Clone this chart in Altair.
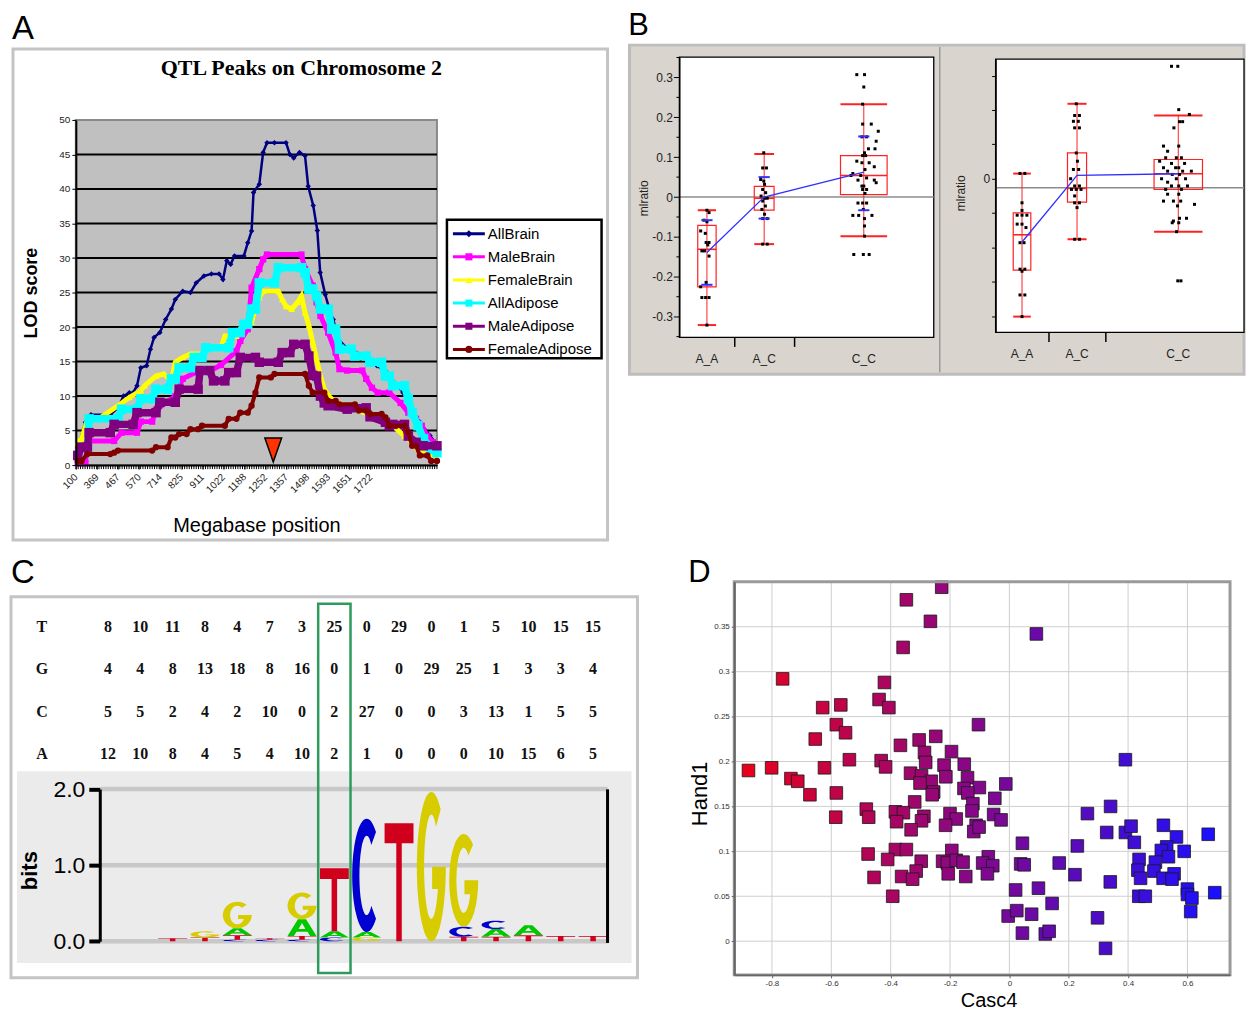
import altair as alt
import pandas as pd

FONT = "Liberation Sans, Arial, sans-serif"
SERIF = "Liberation Serif, Times New Roman, serif"
NARROW = "Liberation Sans Narrow, Arial Narrow, Liberation Sans, sans-serif"

# ---------------- Panel A data ----------------
SERIES = ["AllBrain", "MaleBrain", "FemaleBrain", "AllAdipose", "MaleAdipose", "FemaleAdipose"]
SERIES_COLORS = ["#000080", "#ff00ff", "#ffff00", "#00ffff", "#800080", "#800000"]
SERIES_SHAPES = ["diamond", "square", "triangle-up", "square", "square", "circle"]
SERIES_SIZES = [30, 40, 44, 90, 90, 40]
SERIES_WIDTHS = [2.5, 5, 5, 7.5, 7.5, 4]
X_TICK_LABELS = ["100", "369", "467", "570", "714", "825", "911", "1022", "1188",
                 "1252", "1357", "1498", "1593", "1651", "1722"]
GRID_A = [5, 10, 15, 20, 25, 30, 35, 40, 45]

ALLBRAIN_U = [0.08, 0.40, 0.63, 1.43, 1.75, 1.98, 2.22, 2.38, 2.54, 2.70, 2.94, 3.10, 3.25, 3.49, 3.73,
              3.97, 4.13, 4.44, 4.76, 5.00, 5.32, 5.63, 5.95, 6.11, 6.27, 6.43, 6.59, 6.98, 7.14, 7.30,
              7.38, 7.62, 7.78, 7.94, 8.25, 8.73, 8.89, 9.05, 9.29, 9.52, 9.65, 9.86, 10.03, 10.15, 10.36,
              10.57, 10.69, 10.86, 11.06, 11.40, 11.93, 12.51, 12.93, 13.34, 13.59, 14.00, 14.30, 14.71, 15.00]
ALLBRAIN_LOD = [2.5, 6.2, 7.3, 7.3, 8.3, 10.0, 10.5, 10.5, 11.5, 14.1, 14.4, 16.8, 18.5, 19.2, 21.1,
                22.6, 24.0, 25.2, 25.0, 26.4, 27.4, 27.7, 27.7, 26.9, 29.6, 29.1, 30.3, 30.3, 32.2, 33.9,
                39.5, 40.7, 45.3, 46.7, 46.7, 46.7, 45.0, 44.5, 45.3, 44.8, 40.4, 37.6, 34.0, 27.9, 24.7,
                22.1, 21.1, 18.8, 17.5, 16.8, 15.9, 14.4, 13.4, 11.6, 10.5, 7.7, 6.2, 4.3, 2.9]
MALEBRAIN_U = [0.08, 0.40, 0.48, 1.59, 1.90, 2.54, 2.70, 3.17, 3.33, 4.13, 4.44, 5.08, 5.56, 6.03, 6.67,
               6.83, 7.14, 7.30, 7.62, 7.78, 7.94, 9.37, 9.52, 9.84, 10.00, 10.16, 10.48, 10.79, 10.95, 11.27,
               11.90, 12.06, 12.30, 12.54, 13.02, 13.49, 13.81, 14.13, 14.37, 14.60, 14.84, 15.00]
MALEBRAIN_LOD = [0.3, 0.3, 3.5, 3.5, 4.7, 4.7, 6.3, 6.3, 8.0, 10.0, 12.5, 13.6, 13.6, 14.5, 16.5,
                 18.0, 19.7, 25.7, 28.4, 29.8, 30.5, 30.5, 28.4, 26.0, 23.6, 21.6, 19.2, 16.3, 13.9, 13.7,
                 13.7, 12.5, 11.2, 10.5, 10.5, 9.0, 7.6, 6.7, 5.7, 4.2, 3.3, 2.6]
FEMALEBRAIN_U = [0.08, 0.24, 0.48, 0.95, 1.75, 2.22, 2.70, 2.86, 3.33, 3.65, 3.97, 4.13, 4.44, 4.76, 5.24,
                 5.40, 6.03, 6.19, 6.67, 6.83, 6.98, 7.30, 7.46, 7.62, 7.78, 8.41, 8.57, 8.73, 8.97, 9.21,
                 9.37, 9.52, 9.68, 9.84, 10.00, 10.16, 10.32, 10.56, 10.79, 11.59, 12.38, 13.17, 13.65, 13.97,
                 14.29, 14.76, 15.00]
FEMALEBRAIN_LOD = [3.3, 3.8, 6.5, 6.7, 8.6, 9.8, 10.8, 11.5, 12.9, 13.2, 12.2, 14.9, 15.6, 16.1, 16.1,
                   17.0, 17.0, 18.7, 18.7, 19.7, 20.7, 20.7, 23.0, 24.3, 25.2, 25.2, 24.0, 23.0, 22.6, 23.6,
                   24.5, 22.1, 20.2, 17.8, 15.3, 12.9, 11.0, 9.8, 9.1, 8.1, 7.1, 5.7, 4.2, 3.3,
                   1.8, 1.4, 1.1]
ALLADIPOSE_U = [0.08, 0.24, 0.48, 0.55, 1.75, 1.90, 2.54, 2.70, 3.17, 3.33, 3.81, 3.97, 4.13, 4.29, 4.76,
                4.92, 5.24, 5.40, 6.35, 6.51, 6.83, 6.98, 7.14, 7.30, 7.46, 7.62, 8.25, 8.41, 9.37, 9.52,
                9.68, 9.84, 10.00, 10.16, 10.48, 10.63, 10.79, 10.95, 11.43, 11.59, 12.06, 12.22, 12.70, 12.86,
                13.02, 13.17, 13.65, 13.81, 13.97, 14.21, 14.44, 14.76, 15.00]
ALLADIPOSE_LOD = [1.4, 2.6, 2.6, 6.7, 6.7, 8.1, 8.1, 9.6, 9.6, 11.0, 11.0, 12.5, 12.5, 14.1, 14.1,
                  15.6, 15.6, 17.0, 17.0, 19.2, 19.2, 20.4, 20.4, 22.6, 22.6, 26.4, 26.4, 28.6, 28.6, 27.9,
                  25.5, 25.5, 24.5, 22.6, 22.6, 19.7, 19.7, 16.8, 16.8, 15.8, 15.8, 14.9, 14.9, 12.9,
                  12.9, 11.5, 11.5, 9.6, 7.6, 5.7, 3.8, 2.3, 1.8]
MALEADIPOSE_U = [0.08, 0.24, 0.48, 0.55, 1.43, 1.59, 2.38, 2.54, 3.33, 3.49, 4.13, 4.29, 5.08, 5.16, 5.56,
                 5.72, 6.19, 6.35, 6.67, 6.83, 7.46, 7.62, 8.41, 8.57, 8.89, 9.05, 9.52, 9.68, 9.84, 10.00,
                 10.16, 10.32, 10.48, 11.27, 11.43, 12.06, 12.22, 12.86, 13.02, 13.17, 13.65, 13.81, 14.13,
                 14.44, 15.00]
MALEADIPOSE_LOD = [1.4, 2.6, 2.6, 4.7, 4.7, 5.9, 5.9, 7.6, 7.6, 9.1, 9.1, 11.0, 11.0, 13.7, 13.7,
                   12.2, 12.2, 13.4, 13.4, 15.6, 15.6, 14.9, 14.9, 16.3, 16.3, 17.5, 17.5, 15.8, 13.0, 12.9,
                   10.0, 9.0, 8.6, 8.1, 8.3, 8.3, 7.0, 6.2, 5.7, 5.9, 5.9, 4.2, 3.3,
                   2.8, 2.8]
FEMALEADIPOSE_U = [0.08, 0.24, 0.48, 1.43, 1.59, 1.75, 3.17, 3.33, 3.81, 3.97, 4.13, 4.29, 4.60, 4.76, 5.08,
                   5.24, 6.19, 6.35, 6.67, 6.83, 7.14, 7.30, 7.46, 7.62, 8.10, 8.25, 9.52, 9.68, 9.84, 10.32,
                   10.48, 10.79, 10.95, 11.59, 11.75, 12.06, 12.22, 12.70, 12.86, 13.02, 13.65, 13.81, 13.97,
                   14.13, 14.29, 14.60, 14.76, 15.00]
FEMALEADIPOSE_LOD = [0.6, 0.6, 1.6, 1.6, 1.8, 2.1, 2.1, 2.6, 2.6, 4.0, 4.0, 4.5, 4.5, 5.2, 5.2,
                     5.7, 5.7, 6.7, 6.7, 7.6, 7.6, 8.6, 10.5, 12.7, 12.7, 13.2, 13.2, 11.5, 10.5, 10.5,
                     9.3, 9.3, 8.8, 8.8, 7.9, 7.9, 7.4, 7.4, 6.9, 5.7, 5.7, 4.7, 2.8,
                     2.8, 1.4, 1.4, 0.6, 0.6]

SERIES_U = [ALLBRAIN_U, MALEBRAIN_U, FEMALEBRAIN_U, ALLADIPOSE_U, MALEADIPOSE_U, FEMALEADIPOSE_U]
SERIES_LOD = [ALLBRAIN_LOD, MALEBRAIN_LOD, FEMALEBRAIN_LOD, ALLADIPOSE_LOD, MALEADIPOSE_LOD, FEMALEADIPOSE_LOD]
PEAK_MARK = [8.2, 2.2]

# ---------------- Panel B data ----------------
B_GROUPS = ["A_A", "A_C", "C_C"]
B1_COUNTS = [13, 14, 33]
B1_Q1 = [-0.225, -0.033, 0.006]
B1_MED = [-0.131, -0.003, 0.054]
B1_Q3 = [-0.071, 0.027, 0.104]
B1_LO = [-0.321, -0.118, -0.098]
B1_HI = [-0.033, 0.108, 0.233]
B1_MEAN = [-0.139, 0.0, 0.0625]
B1_SD_LO = [-0.22, -0.054, -0.033]
B1_SD_HI = [-0.058, 0.05, 0.152]
B1_AA_VAL = [-0.033, -0.039, -0.058, -0.062, -0.085, -0.091, -0.114, -0.114, -0.12, -0.135, -0.135, -0.148,
             -0.214, -0.225, -0.252, -0.252, -0.252, -0.321]
B1_AA_OFF = [0.0, 0.23, -0.32, 0.0, -0.68, -0.18, -0.09, 0.23, 0.09, -0.55, -0.27, 0.23,
             -0.09, -0.68, -0.55, -0.14, 0.23, 0.0]
B1_AC_VAL = [0.111, 0.073, 0.073, 0.044, 0.04, 0.032, 0.019, 0.011, 0.0025, -0.003, -0.003, -0.01, -0.0225,
             -0.031, -0.043, -0.054, -0.054, -0.118, -0.118]
B1_AC_OFF = [-0.04, -0.15, 0.23, -0.35, -0.04, 0.04, -0.15, 0.15, -0.31, 0.04, 0.31, -0.15, 0.12,
             -0.23, 0.04, -0.15, 0.31, -0.15, 0.31]
B1_CC_VAL = [0.307, 0.307, 0.276, 0.233, 0.183, 0.183, 0.165, 0.151, 0.151, 0.14,
             0.121, 0.121, 0.111, 0.104, 0.104, 0.09, 0.086, 0.086, 0.076, 0.069,
             0.059, 0.054, 0.054, 0.048, 0.0425, 0.0425, 0.036, 0.0275, 0.0275, 0.019,
             0.019, 0.009, -0.015, -0.015, -0.015, -0.031, -0.046, -0.046, -0.046, -0.054,
             -0.0725, -0.098, -0.144, -0.144, -0.144]
B1_CC_OFF = [-0.30, 0.03, 0.0, -0.05, -0.05, 0.32, 0.62, -0.08, 0.12, 0.53,
             0.20, 0.48, 0.03, -0.05, 0.08, -0.30, -0.08, 0.23, 0.45, 0.05,
             -0.47, -0.55, -0.13, 0.12, -0.25, 0.45, 0.53, -0.08, 0.0, -0.05,
             0.12, 0.05, -0.25, -0.05, 0.12, -0.02, -0.47, -0.22, 0.35, 0.03,
             0.03, 0.03, -0.43, -0.02, 0.23]
B1_MAJOR_TICKS = [-0.3, -0.2, -0.1, 0, 0.1, 0.2, 0.3]
B1_MINOR_TICKS = [-0.35, -0.25, -0.15, -0.05, 0.05, 0.15, 0.25, 0.35]

B2_COUNTS = [12, 13, 33]
B2_Q1 = [-0.266, -0.068, -0.031]
B2_MED = [-0.163, -0.028, 0.0145]
B2_Q3 = [-0.099, 0.075, 0.056]
B2_LO = [-0.401, -0.176, -0.154]
B2_HI = [0.015, 0.218, 0.184]
B2_MEAN = [-0.184, 0.01, 0.0145]
B2_AA_VAL = [0.0155, 0.0155, -0.07, -0.092, -0.106, -0.106, -0.106, -0.132, -0.132, -0.142, -0.186, -0.186,
             -0.263, -0.263, -0.269, -0.338, -0.338, -0.401]
B2_AA_OFF = [-0.23, 0.32, 0.0, 0.0, -0.55, 0.0, 0.55, -0.55, 0.0, 0.45, -0.23, 0.23,
             -0.23, 0.32, 0.0, -0.23, 0.32, 0.0]
B2_AC_VAL = [0.218, 0.184, 0.184, 0.167, 0.167, 0.148, 0.148, 0.075, 0.051, 0.027, 0.027, 0.0,
             -0.021, -0.021, -0.031, -0.031, -0.031, -0.05, -0.07, -0.07, -0.084, -0.176, -0.176]
B2_AC_OFF = [-0.08, -0.25, 0.25, -0.38, 0.13, -0.25, 0.25, -0.08, 0.04, -0.38, 0.17, -0.67,
             -0.25, 0.25, -0.58, -0.08, 0.42, -0.25, -0.25, 0.25, 0.0, -0.25, 0.25]
B2_CC_VAL = [0.327, 0.327, 0.201, 0.187, 0.166, 0.166, 0.148, 0.095, 0.095, 0.080,
             0.061, 0.061, 0.061, 0.051, 0.0445, 0.0445, 0.032, 0.032, 0.032, 0.022,
             0.022, 0.022, 0.0126, 0.0126, 0.0, 0.0, 0.0, -0.01, -0.021, -0.021,
             -0.021, -0.031, -0.031, -0.045, -0.045, -0.065, -0.065, -0.065, -0.0745, -0.079,
             -0.115, -0.115, -0.123, -0.128, -0.128, -0.154, -0.297, -0.297]
B2_CC_OFF = [-0.28, -0.02, 0.02, 0.46, 0.05, 0.18, -0.18, -0.61, 0.02, -0.44,
             -0.52, -0.08, 0.13, -0.77, -0.28, 0.26, -0.61, -0.11, 0.02, -0.44,
             0.18, 0.54, -0.25, 0.05, -0.69, -0.08, 0.30, -0.44, -0.28, 0.02,
             0.38, -0.52, 0.13, -0.44, 0.02, -0.61, -0.20, 0.10, 0.67, -0.03,
             0.05, 0.34, -0.20, -0.25, 0.02, -0.07, -0.02, 0.11]
B2_TICKS = [-0.4, -0.35, -0.3, -0.25, -0.2, -0.15, -0.1, -0.05, 0, 0.05, 0.1, 0.15, 0.2, 0.25, 0.3]

# ---------------- Panel C data ----------------
TABLE_ROWS = ["T", "G", "C", "A"]
COUNT_T = [8, 10, 11, 8, 4, 7, 3, 25, 0, 29, 0, 1, 5, 10, 15, 15]
COUNT_G = [4, 4, 8, 13, 18, 8, 16, 0, 1, 0, 29, 25, 1, 3, 3, 4]
COUNT_C = [5, 5, 2, 4, 2, 10, 0, 2, 27, 0, 0, 3, 13, 1, 5, 5]
COUNT_A = [12, 10, 8, 4, 5, 4, 10, 2, 1, 0, 0, 0, 10, 15, 6, 5]
HIGHLIGHT_COL = 8
LOGO_COL = [3, 4, 4, 5, 5, 5, 5, 6, 6, 7, 7, 7, 7, 8, 8, 8, 9, 9, 9, 10, 11, 12, 12, 12, 13, 13, 13, 14, 14, 15, 16]
LOGO_BASE = ["T", "T", "G", "C", "T", "A", "G", "C", "T", "C", "T", "A", "G", "C", "A", "T", "G", "A", "C",
             "T", "G", "T", "C", "G", "T", "A", "C", "T", "A", "T", "T"]
LOGO_BITS = [0.04, 0.05, 0.08, 0.02, 0.06, 0.09, 0.35, 0.02, 0.02, 0.02, 0.05, 0.22, 0.35, 0.05, 0.08, 0.83,
             0.05, 0.07, 1.49, 1.55, 1.96, 0.06, 0.13, 1.22, 0.06, 0.10, 0.11, 0.08, 0.13, 0.07, 0.07]
BASE_COLORS = ["#00c800", "#0000d0", "#d6cc00", "#d0001c"]

# ---------------- Panel D data ----------------
CASC4 = [-0.228, -0.347, -0.266, -0.358, 0.091, -0.764, -0.421, -0.439, -0.406, -0.629,
         -0.568, -0.583, -0.552, -0.654, -0.104, -0.248, -0.367, -0.304, -0.195, -0.286,
         -0.282, -0.432, -0.417, -0.539, -0.623, -0.801, -0.879, -0.736, -0.713, -0.672,
         -0.583, -0.585, -0.220, -0.152, -0.214, -0.333, -0.296, -0.263, -0.301, -0.255,
         -0.260, -0.319, -0.141, -0.153, -0.101, -0.140, -0.012, -0.049, -0.123, -0.126,
         -0.482, -0.474, -0.384, -0.357, -0.380, -0.288, -0.296, -0.331, -0.200, -0.179,
         -0.215, -0.112, -0.120, -0.102, -0.053, -0.028, -0.476, -0.384, -0.347, -0.410,
         -0.297, -0.314, -0.456, -0.363, -0.326, -0.393, -0.194, -0.225, -0.209, -0.179,
         -0.156, -0.206, -0.147, -0.071, -0.090, -0.056, -0.074, 0.044, 0.038, 0.050,
         0.021, 0.098, 0.168, 0.144, -0.004, 0.025, 0.075, 0.044, 0.121, 0.134,
         0.229, 0.263, 0.221, 0.341, 0.328, 0.340, 0.297, 0.324, 0.391, 0.391,
         0.410, 0.421, 0.437, 0.433, 0.442, 0.436, 0.458, 0.519, 0.563, 0.530,
         0.512, 0.536, 0.492, 0.487, 0.518, 0.555, 0.548, 0.589, 0.670, 0.600,
         0.600, 0.615, 0.611, 0.692]
HAND1 = [0.394, 0.380, 0.356, 0.327, 0.342, 0.292, 0.288, 0.269, 0.260, 0.260,
         0.263, 0.241, 0.232, 0.225, 0.241, 0.228, 0.218, 0.224, 0.211, 0.210,
         0.199, 0.201, 0.194, 0.202, 0.193, 0.193, 0.190, 0.181, 0.178, 0.163,
         0.165, 0.138, 0.196, 0.197, 0.183, 0.187, 0.184, 0.178, 0.176, 0.166,
         0.163, 0.155, 0.182, 0.170, 0.171, 0.165, 0.175, 0.159, 0.153, 0.145,
         0.147, 0.138, 0.144, 0.143, 0.133, 0.139, 0.134, 0.124, 0.142, 0.136,
         0.129, 0.129, 0.122, 0.127, 0.141, 0.135, 0.097, 0.102, 0.102, 0.091,
         0.089, 0.078, 0.071, 0.072, 0.069, 0.050, 0.101, 0.089, 0.087, 0.090,
         0.088, 0.075, 0.072, 0.094, 0.087, 0.084, 0.075, 0.109, 0.086, 0.085,
         0.057, 0.059, 0.087, 0.042, 0.028, 0.034, 0.030, 0.009, 0.008, 0.011,
         0.106, 0.142, 0.074, 0.150, 0.121, 0.066, 0.026, -0.008, 0.202, 0.121,
         0.128, 0.110, 0.091, 0.079, 0.070, 0.050, 0.050, 0.129, 0.116, 0.105,
         0.101, 0.094, 0.088, 0.078, 0.070, 0.075, 0.069, 0.100, 0.119, 0.058,
         0.052, 0.048, 0.033, 0.054]
D_XTICKS = [-0.8, -0.6, -0.4, -0.2, 0, 0.2, 0.4, 0.6]
D_YTICKS = [0, 0.05, 0.1, 0.15, 0.2, 0.25, 0.3, 0.35]

# ---------------- helpers ----------------
ONE = pd.DataFrame({"t": [""]})


def deco_rect(x, x2, y, y2, **kw):
    return alt.Chart(ONE).mark_rect(**kw).encode(
        x=alt.value(x), x2=alt.value(x2), y=alt.value(y), y2=alt.value(y2))


def deco_rule(x, x2, y, y2, **kw):
    return alt.Chart(ONE).mark_rule(**kw).encode(
        x=alt.value(x), x2=alt.value(x2), y=alt.value(y), y2=alt.value(y2))


def deco_text(txt, x, y, **kw):
    return alt.Chart(pd.DataFrame({"t": [txt]})).mark_text(**kw).encode(
        x=alt.value(x), y=alt.value(y), text="t:N")


SIGNED_1F = "abs(datum.value) < 0.001 ? '0' : (datum.value < 0 ? '-' : '') + format(abs(datum.value), '.1f')"

# ================= Panel A =================
XA = alt.Scale(domain=[0, 15], range=[67, 429], nice=False, zero=False)
YA = alt.Scale(domain=[0, 50], range=[455, 109], nice=False, zero=False)
COLOR_A = alt.Scale(domain=SERIES, range=SERIES_COLORS)
SHAPE_A = alt.Scale(domain=SERIES, range=SERIES_SHAPES)

n_slots = 17.156
label_pos = [round(i * 15 / n_slots, 4) for i in range(len(X_TICK_LABELS))]
minor_pos = [round(i * 15 / 156, 4) for i in range(157)]
label_expr = "[" + ",".join("'%s'" % s for s in X_TICK_LABELS) + "][round(datum.value * %s / 15)]" % n_slots

x_axis_a = alt.Axis(orient="bottom", offset=-85, values=label_pos, labelExpr=label_expr,
                    labelAngle=315, labelAlign="right", labelBaseline="middle",
                    labelFont=FONT, labelFontSize=10, labelColor="#222222", labelPadding=6,
                    labelFlush=False, labelOverlap=False, tickSize=4, tickColor="black",
                    domainColor="black", domainWidth=2, grid=False,
                    title="Megabase position", titleFont=FONT, titleFontSize=20,
                    titleFontWeight="normal", titleColor="black", titleX=248, titleY=61,
                    titleAlign="center", titleBaseline="middle", zindex=1)
y_axis_a = alt.Axis(orient="left", offset=-67, values=list(range(0, 51, 5)),
                    labelFont=FONT, labelFontSize=10, labelColor="#222222", labelPadding=2,
                    labelOverlap=False, tickSize=4, tickColor="black", domainColor="black",
                    domainWidth=2, grid=False,
                    title="LOD score", titleFont=FONT, titleFontSize=18, titleFontWeight="bold",
                    titleColor="black", titleX=-44, titleY=282, titleAngle=270,
                    titleAlign="center", titleBaseline="middle", zindex=1)

a_layers = [
    deco_rect(4, 600, 38, 530, fill="white", stroke="#c4c4c4", strokeWidth=3),
    alt.Chart(ONE).mark_rect(fill="#c0c0c0", stroke="#8a8a8a", strokeWidth=2).encode(
        x=alt.XDatum(0, scale=XA, axis=x_axis_a), x2=alt.X2Datum(15),
        y=alt.YDatum(0, scale=YA, axis=y_axis_a), y2=alt.Y2Datum(50)),
    alt.Chart(pd.DataFrame({"v": GRID_A})).mark_rule(color="black", strokeWidth=2).encode(
        x=alt.XDatum(0, scale=XA), x2=alt.X2Datum(15),
        y=alt.Y("v:Q", scale=YA)),
    alt.Chart(pd.DataFrame({"m": minor_pos})).mark_rule(color="black", strokeWidth=1).encode(
        x=alt.X("m:Q", scale=XA), y=alt.value(455), y2=alt.value(459)),
]
for name, us, lods, shp, sz, w in zip(SERIES, SERIES_U, SERIES_LOD, SERIES_SHAPES, SERIES_SIZES, SERIES_WIDTHS):
    df = pd.DataFrame({"s": name, "u": us, "lod": lods})
    base = alt.Chart(df).encode(
        x=alt.X("u:Q", scale=XA), y=alt.Y("lod:Q", scale=YA),
        color=alt.Color("s:N", scale=COLOR_A, legend=None))
    a_layers.append(base.mark_line(strokeWidth=w))
    a_layers.append(base.mark_point(filled=True, opacity=1, shape=shp, size=sz))

a_layers += [
    alt.Chart(ONE).mark_point(shape="M-0.7,-1L0.7,-1L0,1Z", size=576, filled=True, fill="#ff3300",
                              stroke="black", strokeWidth=1.5, opacity=1).encode(
        x=alt.XDatum(PEAK_MARK[0], scale=XA), y=alt.YDatum(PEAK_MARK[1], scale=YA)),
    deco_text("QTL Peaks on Chromosome 2", 293, 57, font=SERIF, fontSize=22, fontWeight="bold",
              align="center", baseline="middle", color="black"),
    deco_text("A", 14, 18, font=FONT, fontSize=33, align="center", baseline="middle", color="black"),
    deco_rect(439, 594, 209, 348, fill="white", stroke="black", strokeWidth=2.5),
]

YL = alt.Scale(type="point", domain=SERIES, range=[223, 339], padding=0)
leg = alt.Chart(pd.DataFrame({"s": SERIES}))
legend_layer = alt.layer(
    leg.mark_rule(strokeWidth=3).encode(
        x=alt.value(445), x2=alt.value(477), y=alt.Y("s:N", scale=YL, axis=None),
        color=alt.Color("s:N", scale=COLOR_A, legend=None)),
    leg.mark_point(filled=True, opacity=1, size=50).encode(
        x=alt.value(461), y=alt.Y("s:N", scale=YL, axis=None),
        color=alt.Color("s:N", scale=COLOR_A, legend=None),
        shape=alt.Shape("s:N", scale=SHAPE_A, legend=None)),
    leg.mark_text(font=FONT, fontSize=15, align="left", baseline="middle", color="black").encode(
        x=alt.value(480), y=alt.Y("s:N", scale=YL, axis=None), text="s:N"),
)
panel_a = alt.layer(alt.layer(*a_layers), legend_layer).resolve_scale(y="independent").properties(
    width=610, height=540)


# ================= Panel B =================
def b_panel(counts, q1, med, q3, lo, hi, mean, vals, offs, xmax, ydom, yrange, ref, yaxis,
            x_offset, label_y, width, sd_lo=None, sd_hi=None, minor=None, pre=()):
    XS = alt.Scale(domain=[0, xmax], range=[0, width], nice=False, zero=False)
    YS = alt.Scale(domain=ydom, range=yrange, nice=False, zero=False)
    tot = float(sum(counts))
    widths = [c / tot for c in counts]
    lefts = [sum(widths[:i]) for i in range(len(widths))]
    centers = [l + w / 2 for l, w in zip(lefts, widths)]
    half = [w / 6 for w in widths]
    bounds = [round(sum(widths[:i + 1]), 4) for i in range(len(widths) - 1)]
    box = pd.DataFrame({"g": B_GROUPS, "c": centers, "bl": [c - h for c, h in zip(centers, half)],
                        "br": [c + h for c, h in zip(centers, half)], "q1": q1, "med": med, "q3": q3,
                        "lo": lo, "hi": hi, "mean": mean})
    prow = []
    for gi, (vs, os_) in enumerate(zip(vals, offs)):
        for v, o in zip(vs, os_):
            prow.append({"x": centers[gi] + o * half[gi], "v": v})
    pts = pd.DataFrame(prow)
    x_axis = alt.Axis(orient="bottom", offset=x_offset, values=bounds, labels=False, tickSize=9,
                      tickColor="black", tickWidth=1.5, domain=False, grid=False, title="", zindex=1)
    bx = alt.Chart(box)
    X = lambda f: alt.X(f, scale=XS)
    Y = lambda f: alt.Y(f, scale=YS)
    layers = list(pre) + [
        alt.Chart(ONE).mark_rect(fill="white", stroke="black", strokeWidth=1.3).encode(
            x=alt.XDatum(0, scale=XS, axis=x_axis), x2=alt.X2Datum(xmax),
            y=alt.YDatum(ydom[0], scale=YS, axis=yaxis), y2=alt.Y2Datum(ydom[1])),
        alt.Chart(ONE).mark_rule(color="#8c8c8c", strokeWidth=1.5).encode(
            x=alt.XDatum(0, scale=XS), x2=alt.X2Datum(xmax),
            y=alt.YDatum(ref, scale=YS)),
        bx.mark_rule(color="#ff2222", strokeWidth=1).encode(x=X("c:Q"), y=Y("lo:Q"), y2="hi:Q"),
        bx.mark_rule(color="#ff2222", strokeWidth=2).encode(x=X("bl:Q"), x2="br:Q", y=Y("hi:Q")),
        bx.mark_rule(color="#ff2222", strokeWidth=2).encode(x=X("bl:Q"), x2="br:Q", y=Y("lo:Q")),
        bx.mark_rect(fill="white", fillOpacity=0, stroke="#ff2222", strokeWidth=1.2).encode(
            x=X("bl:Q"), x2="br:Q", y=Y("q1:Q"), y2="q3:Q"),
        bx.mark_rule(color="#ff2222", strokeWidth=1.6).encode(x=X("bl:Q"), x2="br:Q", y=Y("med:Q")),
        alt.Chart(pts).mark_square(size=9, color="black", opacity=1).encode(x=X("x:Q"), y=Y("v:Q")),
        bx.mark_line(color="#3030ff", strokeWidth=1.3).encode(x=X("c:Q"), y=Y("mean:Q")),
        bx.mark_text(font=NARROW, fontSize=12, color="#222222", baseline="middle").encode(
            x=X("c:Q"), y=alt.value(label_y), text="g:N"),
    ]
    if minor is not None:
        layers.append(alt.Chart(pd.DataFrame({"v": minor})).mark_rule(color="black", strokeWidth=1).encode(
            y=Y("v:Q"), x=alt.value(-3), x2=alt.value(0)))
    if sd_lo is not None:
        sd = pd.DataFrame({"a": [c - 0.022 for c in centers], "b": [c + 0.022 for c in centers],
                           "lo": sd_lo, "hi": sd_hi})
        sdc = alt.Chart(sd)
        layers += [
            sdc.mark_rule(color="#3030ff", strokeWidth=2).encode(x=X("a:Q"), x2="b:Q", y=Y("lo:Q")),
            sdc.mark_rule(color="#3030ff", strokeWidth=2).encode(x=X("a:Q"), x2="b:Q", y=Y("hi:Q")),
        ]
    return alt.layer(*layers).properties(width=width, height=540)


b1_yaxis = alt.Axis(orient="left", values=B1_MAJOR_TICKS, labelExpr=SIGNED_1F, labelOverlap=False,
                    tickSize=6, tickColor="black", domainColor="black", domainWidth=1.3, labelFont=NARROW,
                    labelFontSize=12, labelColor="#222222", labelPadding=1, grid=False,
                    title="mlratio", titleFont=FONT, titleFontSize=12, titleFontWeight="normal",
                    titleColor="#222222", titleX=-36, titleY=187, titleAngle=270,
                    titleAlign="center", titleBaseline="middle", zindex=1)
b2_yaxis = alt.Axis(orient="left", values=B2_TICKS, labelExpr="abs(datum.value) < 0.001 ? '0' : ''",
                    labelOverlap=False, tickSize=4, tickColor="black", domainColor="black", domainWidth=1.3,
                    labelFont=NARROW, labelFontSize=12, labelColor="#222222", labelPadding=2, grid=False,
                    title="mlratio", titleFont=FONT, titleFontSize=12, titleFontWeight="normal",
                    titleColor="#222222", titleX=-35, titleY=182, titleAngle=270,
                    titleAlign="center", titleBaseline="middle", zindex=1)

panel_b1 = b_panel(B1_COUNTS, B1_Q1, B1_MED, B1_Q3, B1_LO, B1_HI, B1_MEAN,
                   [B1_AA_VAL, B1_AC_VAL, B1_CC_VAL], [B1_AA_OFF, B1_AC_OFF, B1_CC_OFF],
                   1.0, [-0.352, 0.351], [327, 46], 0.0, b1_yaxis, -213, 349, 255,
                   sd_lo=B1_SD_LO, sd_hi=B1_SD_HI, minor=B1_MINOR_TICKS,
                   pre=[deco_rect(-50, 566, 34, 364, fill="#d9d5ce", stroke="#bdbdbd", strokeWidth=3),
                        deco_rule(261, 261, 36, 362, color="#9a9a9a", strokeWidth=1.5),
                        deco_text("B", -41, 15, font=FONT, fontSize=31, align="center",
                                  baseline="middle", color="black")])
panel_b2 = b_panel(B2_COUNTS, B2_Q1, B2_MED, B2_Q3, B2_LO, B2_HI, B2_MEAN,
                   [B2_AA_VAL, B2_AC_VAL, B2_CC_VAL], [B2_AA_OFF, B2_AC_OFF, B2_CC_OFF],
                   0.973, [-0.447, 0.348], [322, 48], -0.026, b2_yaxis, -218, 344, 249)

# ================= Panel C =================
XC = alt.Scale(domain=[1, 16], range=[99.2, 585.5], nice=False, zero=False)
YT = alt.Scale(type="point", domain=TABLE_ROWS, range=[73, 200.8], padding=0)
YLOGO = alt.Scale(domain=[0, 2], range=[388.3, 235.7], nice=False, zero=False)
PX_PER_BIT = (388.3 - 235.7) / 2.0
LETTER_W = 29.0


def glyph_path(base, k):
    def p(x, y):
        return "%.3f,%.3f" % (x, y * k)
    if base == "T":
        pts = [(-1, -1), (1, -1), (1, -0.66), (0.19, -0.66), (0.19, 1), (-0.19, 1), (-0.19, -0.66), (-1, -0.66)]
        return "M" + "L".join(p(x, y) for x, y in pts) + "Z"
    if base == "A":
        outer = [(-1, 1), (-0.28, -1), (0.28, -1), (1, 1), (0.56, 1), (0.38, 0.5), (-0.38, 0.5), (-0.56, 1)]
        hole = [(-0.24, 0.18), (0.24, 0.18), (0, -0.55)]
        return ("M" + "L".join(p(x, y) for x, y in outer) + "Z"
                + "M" + "L".join(p(x, y) for x, y in hole) + "Z")
    ro = "%.3f" % k
    ri = "%.3f" % (0.7 * k)
    if base == "C":
        return ("M%sA1,%s 0 1 0 %sL%sA0.5,%s 0 1 1 %sZ"
                % (p(0.643, -0.766), ro, p(0.643, 0.766), p(0.32, 0.536), ri, p(0.32, -0.536)))
    return ("M%sA1,%s 0 1 0 %sL%sL%sL%sA0.5,%s 0 1 1 %sZ"
            % (p(0.643, -0.766), ro, p(1, 0), p(0.05, 0), p(0.05, 0.3), p(0.45, 0.3), ri, p(0.32, -0.536)))


logo_rows = []
stack_top = {}
for col, base, bits in zip(LOGO_COL, LOGO_BASE, LOGO_BITS):
    y0 = stack_top.get(col, 0.0)
    y1 = y0 + bits
    stack_top[col] = y1
    k = max(bits * PX_PER_BIT, 0.6) / LETTER_W
    logo_rows.append({"col": col, "base": base, "yc": (y0 + y1) / 2, "path": glyph_path(base, k)})
logo_df = pd.DataFrame(logo_rows)

table_rows = []
for r, counts in zip(TABLE_ROWS, [COUNT_T, COUNT_G, COUNT_C, COUNT_A]):
    for i, c in enumerate(counts):
        table_rows.append({"row": r, "col": i + 1, "n": str(c)})
table_df = pd.DataFrame(table_rows)

bits_axis = alt.Axis(orient="left", offset=-91, values=[0, 1, 2], format=".1f",
                     labelFont=NARROW, labelFontSize=23, labelColor="black", labelPadding=4,
                     tickSize=11, tickWidth=4, tickColor="black", domainColor="black", domainWidth=3,
                     grid=False, title="bits", titleFont=FONT, titleFontSize=22, titleFontWeight="bold",
                     titleColor="black", titleX=-70, titleY=317, titleAngle=270,
                     titleAlign="center", titleBaseline="middle", zindex=1)

logo_layers = alt.layer(
    deco_rect(2, 630, 43, 425, fill="white", stroke="#c4c4c4", strokeWidth=3),
    deco_text("C", 14, 19, font=FONT, fontSize=33, align="center", baseline="middle", color="black"),
    deco_rect(8, 624, 218, 410, fill="#ebebeb"),
    alt.Chart(pd.DataFrame({"v": [0, 1, 2]})).mark_rule(color="#c8c8c8", strokeWidth=4.5).encode(
        y=alt.Y("v:Q", scale=YLOGO, axis=bits_axis), x=alt.value(92), x2=alt.value(600)),
    alt.Chart(logo_df).mark_point(filled=True, opacity=1, size=LETTER_W * LETTER_W, strokeWidth=0).encode(
        x=alt.X("col:Q", scale=XC, axis=None), y=alt.Y("yc:Q", scale=YLOGO),
        shape=alt.Shape("path:N", scale=None, legend=None),
        color=alt.Color("base:N", scale=alt.Scale(domain=["A", "C", "G", "T"], range=BASE_COLORS), legend=None)),
    deco_rule(600, 600, 236, 390, color="black", strokeWidth=3),
)
table_layers = alt.layer(
    alt.Chart(table_df).mark_text(font=SERIF, fontSize=16, fontWeight="bold", color="#111111",
                                  baseline="middle").encode(
        x=alt.X("col:Q", scale=XC, axis=None), y=alt.Y("row:N", scale=YT, axis=None), text="n:N"),
    alt.Chart(pd.DataFrame({"row": TABLE_ROWS})).mark_text(font=SERIF, fontSize=16, fontWeight="bold",
                                                           color="#111111", baseline="middle").encode(
        x=alt.value(33), y=alt.Y("row:N", scale=YT, axis=None), text="row:N"),
    alt.Chart(ONE).mark_rect(fillOpacity=0, stroke="#2e9a5c", strokeWidth=2.5).encode(
        x=alt.XDatum(HIGHLIGHT_COL - 0.5, scale=XC, axis=None), x2=alt.X2Datum(HIGHLIGHT_COL + 0.5),
        y=alt.value(50), y2=alt.value(420)),
)
panel_c = alt.layer(logo_layers, table_layers).resolve_scale(y="independent").properties(width=707, height=458)

# ================= Panel D =================
XD = alt.Scale(domain=[-0.927, 0.7435], range=[0, 497], nice=False, zero=False)
YD = alt.Scale(domain=[-0.0375, 0.400], range=[422, 28], nice=False, zero=False)
x_axis_d = alt.Axis(orient="bottom", offset=-36, values=D_XTICKS, labelExpr=SIGNED_1F,
                    labelFont=FONT, labelFontSize=8, labelColor="#333333", labelPadding=2, labelFlush=False,
                    labelOverlap=False, tickSize=3, tickColor="#666666", domainColor="#666666", domainWidth=2,
                    grid=False, title="Casc4", titleFont=FONT, titleFontSize=20, titleFontWeight="normal",
                    titleColor="black", titleX=255, titleY=36, titleAlign="center", titleBaseline="bottom",
                    zindex=1)
y_axis_d = alt.Axis(orient="left", values=D_YTICKS,
                    labelExpr="datum.value == 0 ? '0' : format(datum.value, '.2~f')",
                    labelFont=FONT, labelFontSize=8, labelColor="#333333", labelPadding=2,
                    labelOverlap=False, tickSize=3, tickColor="#666666", domainColor="#666666", domainWidth=2,
                    grid=False, title="Hand1", titleFont=FONT, titleFontSize=22, titleFontWeight="normal",
                    titleColor="black", titleX=-35, titleY=240, titleAngle=270,
                    titleAlign="center", titleBaseline="middle", zindex=1)
d_df = pd.DataFrame({"casc4": CASC4, "hand1": HAND1})
panel_d = alt.layer(
    alt.Chart(pd.DataFrame({"v": D_XTICKS})).mark_rule(color="#cfcfcf", strokeWidth=1).encode(
        x=alt.X("v:Q", scale=XD), y=alt.YDatum(-0.0375, scale=YD), y2=alt.Y2Datum(0.4)),
    alt.Chart(pd.DataFrame({"v": D_YTICKS})).mark_rule(color="#cfcfcf", strokeWidth=1).encode(
        y=alt.Y("v:Q", scale=YD), x=alt.XDatum(-0.927, scale=XD), x2=alt.X2Datum(0.7435)),
    alt.Chart(d_df).mark_square(size=160, filled=True, opacity=1, stroke="#1a1a1a", strokeWidth=0.8).encode(
        x=alt.X("casc4:Q", scale=XD), y=alt.Y("hand1:Q", scale=YD),
        fill=alt.Fill("casc4:Q", scale=alt.Scale(domain=[-0.88, 0.7], range=["#e8001c", "#1a10ff"],
                                                 interpolate="rgb"), legend=None)),
    alt.Chart(ONE).mark_rect(fillOpacity=0, stroke="#9a9a9a", strokeWidth=3).encode(
        x=alt.XDatum(-0.927, scale=XD, axis=x_axis_d), x2=alt.X2Datum(0.7435),
        y=alt.YDatum(-0.0375, scale=YD, axis=y_axis_d), y2=alt.Y2Datum(0.4)),
    deco_text("D", -35, 19, font=FONT, fontSize=31, align="center", baseline="middle", color="black"),
).properties(width=497, height=458)

row1 = alt.hconcat(panel_a, panel_b1, panel_b2, spacing=62, bounds="flush")
row2 = alt.hconcat(panel_c, panel_d, spacing=20, bounds="flush")
chart = alt.vconcat(row1, row2, spacing=2).resolve_scale(
    color="independent", shape="independent", fill="independent").properties(
    padding=0, background="white").configure_view(stroke="transparent")

chart.save("out.html", embed_options={"renderer": "svg", "actions": False})
